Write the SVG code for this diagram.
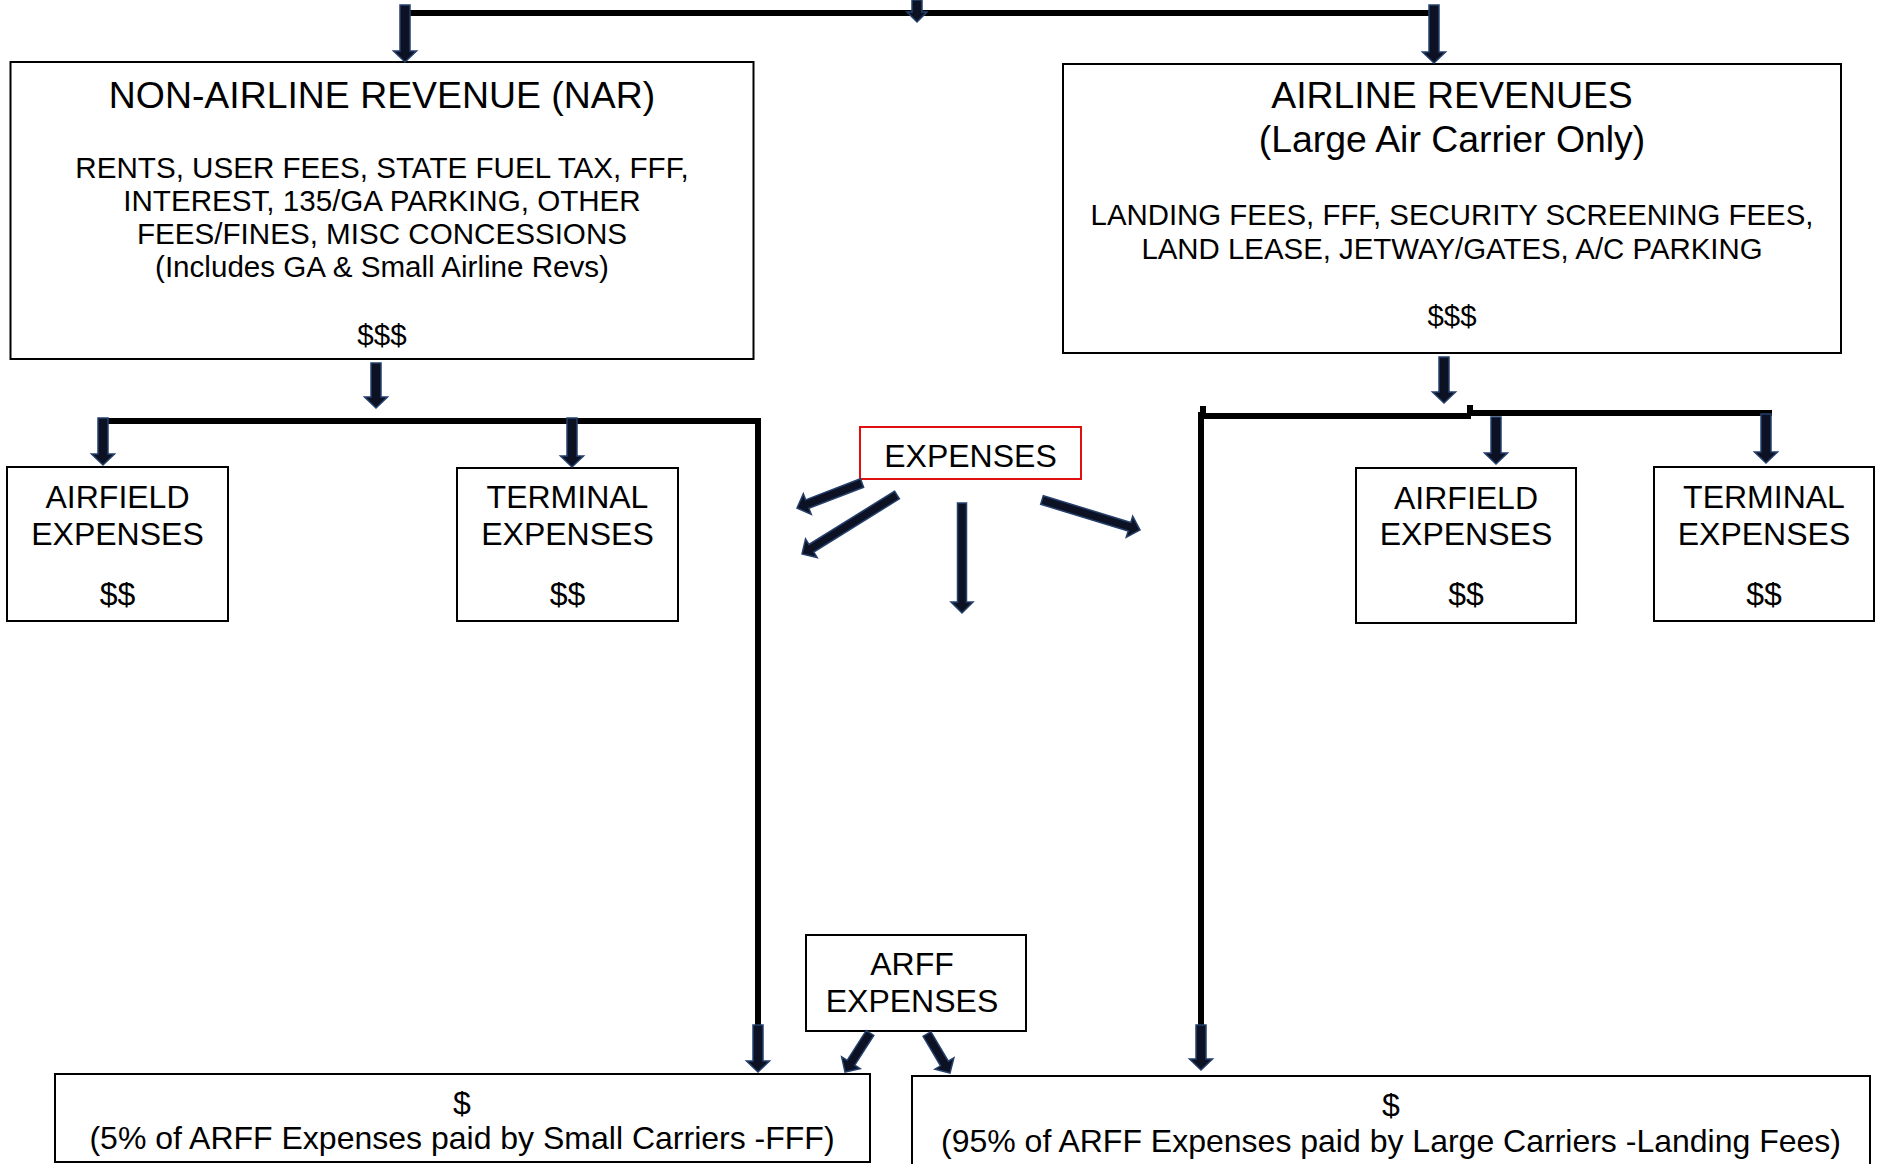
<svg xmlns="http://www.w3.org/2000/svg" width="1883" height="1164" viewBox="0 0 1883 1164">
<style>
.box{fill:#fff;stroke:#000;stroke-width:2}
.red{fill:#fff;stroke:#e01010;stroke-width:2}
.t{font-family:"Liberation Sans",Arial,sans-serif;fill:#000;text-anchor:middle}
.f38{font-size:37.4px}
.f30{font-size:29.6px}
.f29{font-size:29.4px}
.f32{font-size:32px}
.ln{fill:none;stroke:#000;stroke-width:6}
.arr{fill:#0c1224;stroke:#26406c;stroke-width:1.5;stroke-linejoin:miter}
</style>
<rect width="1883" height="1164" fill="#fff"/>

<g id="nar">
<rect class="box" x="10.5" y="62" width="743" height="297"/>
<text class="t f38" x="382" y="108">NON-AIRLINE REVENUE (NAR)</text>
<text class="t f30" x="382" y="178">RENTS, USER FEES, STATE FUEL TAX, FFF,</text>
<text class="t f30" x="382" y="211">INTEREST, 135/GA PARKING, OTHER</text>
<text class="t f30" x="382" y="244">FEES/FINES, MISC CONCESSIONS</text>
<text class="t f30" x="382" y="277">(Includes GA &amp; Small Airline Revs)</text>
<text class="t f30" x="382" y="345">$$$</text>
</g>

<g id="airline">
<rect class="box" x="1063" y="64" width="778" height="289"/>
<text class="t f38" x="1452" y="108">AIRLINE REVENUES</text>
<text class="t f38" x="1452" y="152">(Large Air Carrier Only)</text>
<text class="t f29" x="1452" y="225">LANDING FEES, FFF, SECURITY SCREENING FEES,</text>
<text class="t f29" x="1452" y="259">LAND LEASE, JETWAY/GATES, A/C PARKING</text>
<text class="t f29" x="1452" y="326">$$$</text>
</g>

<g id="airfield-left">
<rect class="box" x="7" y="467" width="221" height="154"/>
<text class="t f32" x="117.5" y="508">AIRFIELD</text>
<text class="t f32" x="117.5" y="545">EXPENSES</text>
<text class="t f32" x="117.5" y="605">$$</text>
</g>

<g id="terminal-left">
<rect class="box" x="457" y="468" width="221" height="153"/>
<text class="t f32" x="567.5" y="508">TERMINAL</text>
<text class="t f32" x="567.5" y="545">EXPENSES</text>
<text class="t f32" x="567.5" y="605">$$</text>
</g>

<g id="expenses">
<rect class="red" x="860" y="427" width="221" height="52"/>
<text class="t f32" x="970.5" y="467">EXPENSES</text>
</g>

<g id="airfield-right">
<rect class="box" x="1356" y="468" width="220" height="155"/>
<text class="t f32" x="1466" y="509">AIRFIELD</text>
<text class="t f32" x="1466" y="545">EXPENSES</text>
<text class="t f32" x="1466" y="605">$$</text>
</g>

<g id="terminal-right">
<rect class="box" x="1654" y="467" width="220" height="154"/>
<text class="t f32" x="1764" y="508">TERMINAL</text>
<text class="t f32" x="1764" y="545">EXPENSES</text>
<text class="t f32" x="1764" y="605">$$</text>
</g>

<g id="arff">
<rect class="box" x="806" y="935" width="220" height="96"/>
<text class="t f32" x="912" y="975">ARFF</text>
<text class="t f32" x="912" y="1012">EXPENSES</text>
</g>

<g id="small-carriers">
<rect class="box" x="55" y="1074" width="815" height="88"/>
<text class="t f32" x="462" y="1114">$</text>
<text class="t f32" x="462" y="1149">(5% of ARFF Expenses paid by Small Carriers -FFF)</text>
</g>

<g id="large-carriers">
<rect class="box" x="912" y="1076" width="958" height="100"/>
<text class="t f32" x="1391" y="1116">$</text>
<text class="t f32" x="1391" y="1152">(95% of ARFF Expenses paid by Large Carriers -Landing Fees)</text>
</g>

<g id="connectors">
<path class="ln" d="M402,13 H1437"/>
<path class="ln" d="M101,421 H761 M758,418 V1030"/>
<path class="ln" d="M1201,412 V1030 M1198,416 H1471 M1470,413 H1772 M1470,405 V416 M1203,406 V414"/>
<polygon class="arr" points="400,5 410,5 410,51 416.5,51 405,62 393.5,51 400,51"/>
<polygon class="arr" points="912,0 922,0 922,12 927,12 917,22 907,12 912,12"/>
<polygon class="arr" points="1429,5 1439,5 1439,52 1445.5,52 1434,63 1422.5,52 1429,52"/>
<polygon class="arr" points="371,363 381,363 381,397 387.5,397 376,408 364.5,397 371,397"/>
<polygon class="arr" points="98,418 108,418 108,454 114.5,454 103,465 91.5,454 98,454"/>
<polygon class="arr" points="567,418 577,418 577,456 583.5,456 572,467 560.5,456 567,456"/>
<polygon class="arr" points="753,1025 763,1025 763,1061 769.5,1061 758,1072 746.5,1061 753,1061"/>
<polygon class="arr" points="1439,357 1449,357 1449,392 1455.5,392 1444,403 1432.5,392 1439,392"/>
<polygon class="arr" points="1491,417 1501,417 1501,453 1507.5,453 1496,464 1484.5,453 1491,453"/>
<polygon class="arr" points="1761,414 1771,414 1771,452 1777.5,452 1766,463 1754.5,452 1761,452"/>
<polygon class="arr" points="1196,1025 1206,1025 1206,1059 1212.5,1059 1201,1070 1189.5,1059 1196,1059"/>
<polygon class="arr" points="957.5,503 966.5,503 966.5,602 973,602 962,613 951,602 957.5,602"/>
<polygon class="arr" points="860.38,478.8 805.65,499.85 803.32,493.78 797,508 811.22,514.32 808.88,508.25 863.62,487.2"/>
<polygon class="arr" points="894.63,491.18 808.97,544.38 805.54,538.86 802,554 817.15,557.54 813.72,552.02 899.37,498.82"/>
<polygon class="arr" points="1040.68,504.3 1128.17,531.08 1126.26,537.3 1140,530 1132.7,516.26 1130.8,522.48 1043.32,495.7"/>
<polygon class="arr" points="866.21,1030.57 847.15,1060.31 841.68,1056.8 845,1072 860.2,1068.68 854.73,1065.17 873.79,1035.43"/>
<polygon class="arr" points="923.12,1036.29 940.53,1065.81 934.94,1069.12 950,1073 953.89,1057.94 948.29,1061.24 930.88,1031.71"/>
</g>
</svg>
